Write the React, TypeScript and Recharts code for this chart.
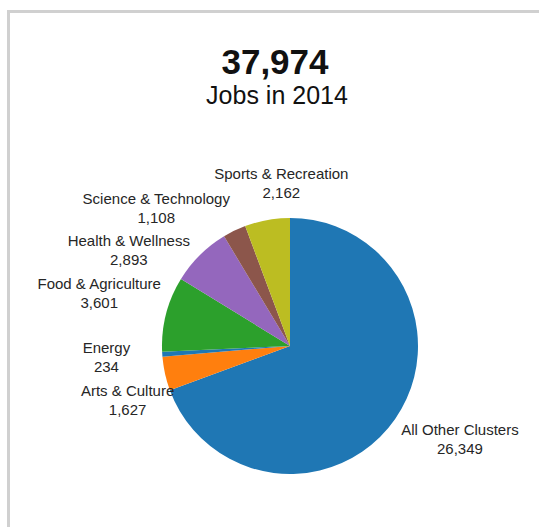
import { PieChart, Pie, Cell } from "recharts";

const clusters = [
  "All Other Clusters",
  "Arts & Culture",
  "Energy",
  "Food & Agriculture",
  "Health & Wellness",
  "Science & Technology",
  "Sports & Recreation",
];
const jobs = [26349, 1627, 234, 3601, 2893, 1108, 2162];
const colors = ["#1f77b4", "#ff7f0e", "#1f77b4", "#2ca02c", "#9467bd", "#8c564b", "#bcbd22"];

const totalLabel = "37,974";
const subtitle = "Jobs in 2014";

const data = clusters.map((name, i) => ({ name, value: jobs[i] }));

// Excel "best fit" moves some labels away from the plain ellipse spot
const nudge: Record<string, [number, number]> = {
  "All Other Clusters": [10, -1],
  "Arts & Culture": [28, 18],
  Energy: [11, 0],
  "Food & Agriculture": [-2, -12],
  "Health & Wellness": [-24, 21],
  "Science & Technology": [-49, 11],
  "Sports & Recreation": [26, -1],
};

const FONT = "'Liberation Sans', Arial, sans-serif";

function renderLabel(props: any) {
  const { cx, cy, midAngle, name, value } = props;
  const rad = (midAngle * Math.PI) / 180;
  const [nx, ny] = nudge[name] || [0, 0];
  const x = cx + 195 * Math.cos(rad) + nx;
  const y = cy - 165 * Math.sin(rad) + ny;
  return (
    <text x={x} y={y} textAnchor="middle" fontSize={15} fill="#262626" fontFamily={FONT}>
      <tspan x={x} y={y - 4}>
        {name}
      </tspan>
      <tspan x={x} y={y + 15}>
        {value.toLocaleString("en-US")}
      </tspan>
    </text>
  );
}

export default function App() {
  return (
    <div
      style={{
        position: "absolute",
        left: 0,
        top: 0,
        width: 539,
        height: 527,
        overflow: "hidden",
        background: "#fff",
      }}
    >
      <div
        style={{
          position: "absolute",
          left: 7,
          top: 10,
          width: 700,
          height: 700,
          borderLeft: "3px solid #d0d0d0",
          borderTop: "3px solid #d0d0d0",
        }}
      />
      <svg width={539} height={130} style={{ position: "absolute", left: 0, top: 0 }}>
        <text x={275} y={74} textAnchor="middle" fontSize={35} fontWeight="bold" fill="#111" fontFamily={FONT}>
          {totalLabel}
        </text>
        <text x={277} y={104} textAnchor="middle" fontSize={25} fill="#111" fontFamily={FONT}>
          {subtitle}
        </text>
      </svg>
      <div style={{ position: "absolute", left: 0, top: 0 }}>
        <PieChart width={539} height={527} margin={{ top: 0, right: 0, bottom: 0, left: 0 }}>
          <Pie
            data={data}
            dataKey="value"
            nameKey="name"
            cx={290}
            cy={346}
            outerRadius={128}
            startAngle={90}
            endAngle={-270}
            stroke="none"
            labelLine={false}
            label={renderLabel}
            isAnimationActive={false}
          >
            {data.map((d, i) => (
              <Cell key={d.name} fill={colors[i]} />
            ))}
          </Pie>
        </PieChart>
      </div>
    </div>
  );
}
